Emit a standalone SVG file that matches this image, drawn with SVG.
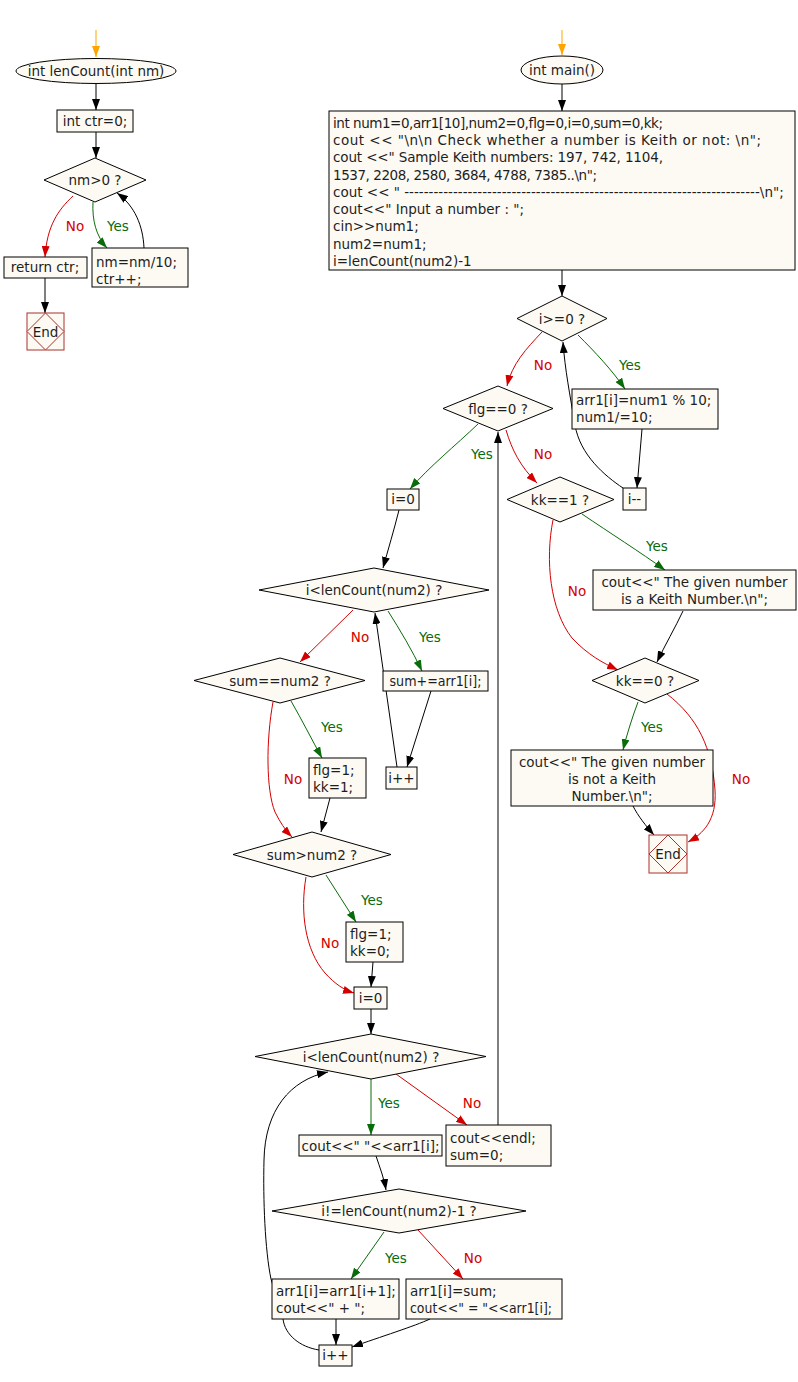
<svg xmlns="http://www.w3.org/2000/svg" width="798" height="1382" viewBox="0 0 798 1382">
<style>
.t{font-family:"DejaVu Sans","Liberation Sans",sans-serif;font-size:13.5px;fill:#1e1e1e}
.c{text-anchor:middle}
.box{fill:#fdfaf4;stroke:#000;stroke-width:1}
.end{fill:#fdfaf4;stroke:#a8322e;stroke-width:1}
.e{fill:none;stroke:#000;stroke-width:1}
.ey{fill:none;stroke:#0a6b0a;stroke-width:1}
.en{fill:none;stroke:#d40000;stroke-width:1}
.eo{fill:none;stroke:#ffa500;stroke-width:1}
.ly{font-family:"DejaVu Sans","Liberation Sans",sans-serif;font-size:13.5px;fill:#0a6b0a;text-anchor:middle}
.ln{font-family:"DejaVu Sans","Liberation Sans",sans-serif;font-size:13.5px;fill:#d40000;text-anchor:middle}
</style>
<defs>
<marker id="ak" viewBox="0 0 11 8" refX="11" refY="4" markerWidth="11" markerHeight="8" markerUnits="userSpaceOnUse" orient="auto"><path d="M0,0 L11,4 L0,8 z" fill="#000"/></marker>
<marker id="ag" viewBox="0 0 11 8" refX="11" refY="4" markerWidth="11" markerHeight="8" markerUnits="userSpaceOnUse" orient="auto"><path d="M0,0 L11,4 L0,8 z" fill="#0a6b0a"/></marker>
<marker id="ar" viewBox="0 0 11 8" refX="11" refY="4" markerWidth="11" markerHeight="8" markerUnits="userSpaceOnUse" orient="auto"><path d="M0,0 L11,4 L0,8 z" fill="#d40000"/></marker>
<marker id="ao" viewBox="0 0 11 8" refX="11" refY="4" markerWidth="11" markerHeight="8" markerUnits="userSpaceOnUse" orient="auto"><path d="M0,0 L11,4 L0,8 z" fill="#ffa500"/></marker>
</defs>
<rect width="798" height="1382" fill="#ffffff"/>

<g id="connectors">
<!-- left function -->
<path class="eo" d="M96,30 L96,57" marker-end="url(#ao)"/>
<path class="e" d="M96,83 L96,110" marker-end="url(#ak)"/>
<path class="e" d="M96,132 L96,158" marker-end="url(#ak)"/>
<path class="en" d="M73,196 C58,210 47,226 45,257" marker-end="url(#ar)"/>
<path class="ey" d="M93,202 C92,220 96,236 107,248" marker-end="url(#ag)"/>
<path class="e" d="M144,248 C143,226 135,206 117,193" marker-end="url(#ak)"/>
<path class="e" d="M45,278 L45,313" marker-end="url(#ak)"/>
<!-- main -->
<path class="eo" d="M562,30 L562,55" marker-end="url(#ao)"/>
<path class="e" d="M562,84 L562,111" marker-end="url(#ak)"/>
<path class="e" d="M562,270 L562,296" marker-end="url(#ak)"/>
<path class="en" d="M542,332 C526,349 512,364 507,386" marker-end="url(#ar)"/>
<path class="ey" d="M578,335 C595,352 612,370 625,389" marker-end="url(#ag)"/>
<path class="e" d="M642,429 L637,488" marker-end="url(#ak)"/>
<path class="e" d="M623,488 C605,476 580,455 575,425 C570,395 565,370 563,342" marker-end="url(#ak)"/>
<path class="ey" d="M478,424 C455,446 430,466 410,489" marker-end="url(#ag)"/>
<path class="en" d="M506,430 C512,450 520,466 537,483" marker-end="url(#ar)"/>
<path class="e" d="M498,1125 L498,432" marker-end="url(#ak)"/>
<path class="ey" d="M582,514 C610,533 640,552 665,570" marker-end="url(#ag)"/>
<path class="en" d="M553,520 C545,560 550,610 572,638 C588,655 603,663 618,670" marker-end="url(#ar)"/>
<path class="e" d="M683,611 C675,628 665,645 657,662" marker-end="url(#ak)"/>
<path class="ey" d="M638,702 C632,718 627,734 623,750" marker-end="url(#ag)"/>
<path class="en" d="M667,694 C698,718 712,748 715,790 C717,820 703,834 688,842" marker-end="url(#ar)"/>
<path class="e" d="M633,806 C638,816 646,826 654,835" marker-end="url(#ak)"/>
<!-- left middle -->
<path class="e" d="M399,510 C394,530 388,550 383,568" marker-end="url(#ak)"/>
<path class="en" d="M353,610 L300,662" marker-end="url(#ar)"/>
<path class="ey" d="M388,611 C400,630 412,650 422,671" marker-end="url(#ag)"/>
<path class="e" d="M431,691 L407,767" marker-end="url(#ak)"/>
<path class="e" d="M397,767 L375,613" marker-end="url(#ak)"/>
<path class="ey" d="M291,701 C302,720 312,740 322,758" marker-end="url(#ag)"/>
<path class="en" d="M273,702 C266,740 266,790 275,812 C280,822 285,830 292,837" marker-end="url(#ar)"/>
<path class="e" d="M330,798 L321,832" marker-end="url(#ak)"/>
<path class="ey" d="M326,875 C336,891 346,906 356,922" marker-end="url(#ag)"/>
<path class="en" d="M306,877 C300,912 305,950 325,973 C335,984 344,990 354,993" marker-end="url(#ar)"/>
<path class="e" d="M373,962 L371,987" marker-end="url(#ak)"/>
<path class="e" d="M371,1009 L371,1034" marker-end="url(#ak)"/>
<!-- bottom -->
<path class="ey" d="M371,1079 L371,1135" marker-end="url(#ag)"/>
<path class="en" d="M396,1074 L467,1125" marker-end="url(#ar)"/>
<path class="e" d="M376,1156 C380,1168 384,1178 386,1190" marker-end="url(#ak)"/>
<path class="e" d="M319,1350 C300,1347 285,1335 283,1319 L271,1279 C265,1250 263,1200 264,1160 C265,1110 290,1080 328,1072" marker-end="url(#ak)"/>
<path class="ey" d="M384,1232 L351,1279" marker-end="url(#ag)"/>
<path class="en" d="M418,1230 L463,1279" marker-end="url(#ar)"/>
<path class="e" d="M336,1319 L336,1345" marker-end="url(#ak)"/>
<path class="e" d="M430,1319 C415,1326 380,1337 352,1347" marker-end="url(#ak)"/>
<!-- labels -->
<text class="ln" x="75" y="231">No</text>
<text class="ly" x="118" y="231">Yes</text>
<text class="ln" x="543" y="370">No</text>
<text class="ly" x="630" y="370">Yes</text>
<text class="ly" x="482" y="459">Yes</text>
<text class="ln" x="543" y="459">No</text>
<text class="ly" x="657" y="551">Yes</text>
<text class="ln" x="577" y="596">No</text>
<text class="ly" x="652" y="732">Yes</text>
<text class="ln" x="741" y="784">No</text>
<text class="ln" x="360" y="642">No</text>
<text class="ly" x="430" y="642">Yes</text>
<text class="ly" x="332" y="732">Yes</text>
<text class="ln" x="293" y="784">No</text>
<text class="ly" x="372" y="905">Yes</text>
<text class="ln" x="330" y="948">No</text>
<text class="ly" x="389" y="1108">Yes</text>
<text class="ln" x="472" y="1108">No</text>
<text class="ly" x="396" y="1263">Yes</text>
<text class="ln" x="473" y="1263">No</text>
</g>

<g id="lenCount_start">
<ellipse class="box" cx="96" cy="71" rx="80" ry="12.5"/>
<text class="t c" x="96" y="76">int lenCount(int nm)</text>
</g>
<g id="ctr_init">
<rect class="box" x="57" y="110" width="76" height="22"/>
<text class="t c" x="95" y="126">int ctr=0;</text>
</g>
<g id="nm_cond">
<polygon class="box" points="95,158 146,180 95,202 44,180"/>
<text class="t c" x="95" y="185">nm&gt;0 ?</text>
</g>
<g id="return_ctr">
<rect class="box" x="4" y="257" width="83" height="21"/>
<text class="t c" x="45" y="272">return ctr;</text>
</g>
<g id="nm_div">
<rect class="box" x="92" y="248" width="96" height="39"/>
<text class="t" x="96" y="267">nm=nm/10;</text>
<text class="t" x="96" y="284">ctr++;</text>
</g>
<g id="end1">
<rect class="end" x="27" y="313" width="37" height="37"/>
<polygon class="end" points="45.5,313 64,331.5 45.5,350 27,331.5" fill="none"/>
<text class="t c" x="45.5" y="336.5">End</text>
</g>

<g id="main_start">
<ellipse class="box" cx="562" cy="70" rx="41" ry="14"/>
<text class="t c" x="562" y="75">int main()</text>
</g>
<g id="init_block">
<rect class="box" x="329" y="111" width="466" height="159"/>
<text class="t" x="333" y="127.7" textLength="330" lengthAdjust="spacing">int num1=0,arr1[10],num2=0,flg=0,i=0,sum=0,kk;</text>
<text class="t" x="333" y="145" textLength="428" lengthAdjust="spacing">cout &lt;&lt; "\n\n Check whether a number is Keith or not: \n";</text>
<text class="t" x="333" y="162.2" textLength="330" lengthAdjust="spacing">cout &lt;&lt;" Sample Keith numbers: 197, 742, 1104,</text>
<text class="t" x="333" y="179.5" textLength="264" lengthAdjust="spacing">1537, 2208, 2580, 3684, 4788, 7385..\n";</text>
<text class="t" x="333" y="196.7">cout &lt;&lt; " -------------------------------------------------------------------------\n";</text>
<text class="t" x="333" y="214">cout&lt;&lt;" Input a number : ";</text>
<text class="t" x="333" y="231.2">cin&gt;&gt;num1;</text>
<text class="t" x="333" y="248.5">num2=num1;</text>
<text class="t" x="333" y="265.7">i=lenCount(num2)-1</text>
</g>
<g id="i_ge0">
<polygon class="box" points="562,296 607,318.5 562,341 517,318.5"/>
<text class="t c" x="562" y="323.5">i&gt;=0 ?</text>
</g>
<g id="digit_box">
<rect class="box" x="572" y="389" width="146" height="40"/>
<text class="t" x="576" y="405">arr1[i]=num1 % 10;</text>
<text class="t" x="576" y="422">num1/=10;</text>
</g>
<g id="i_dec">
<rect class="box" x="623" y="488" width="23" height="22"/>
<text class="t c" x="634.5" y="504">i--</text>
</g>
<g id="flg_cond">
<polygon class="box" points="498,386 553,408.5 498,431 443,408.5"/>
<text class="t c" x="498" y="413.5">flg==0 ?</text>
</g>
<g id="kk1_cond">
<polygon class="box" points="560,477 614,499.5 560,522 507,499.5"/>
<text class="t c" x="560" y="504.5">kk==1 ?</text>
</g>
<g id="keith_yes">
<rect class="box" x="593" y="570" width="203" height="40"/>
<text class="t c" x="694.5" y="587">cout&lt;&lt;" The given number</text>
<text class="t c" x="694.5" y="604">is a Keith Number.\n";</text>
</g>
<g id="kk0_cond">
<polygon class="box" points="645,658 699,680.5 645,703 592,680.5"/>
<text class="t c" x="645" y="685.5">kk==0 ?</text>
</g>
<g id="keith_no">
<rect class="box" x="511" y="750" width="202" height="56"/>
<text class="t c" x="612" y="767">cout&lt;&lt;" The given number</text>
<text class="t c" x="612" y="784">is not a Keith</text>
<text class="t c" x="612" y="801">Number.\n";</text>
</g>
<g id="end2">
<rect class="end" x="649" y="835" width="38" height="38"/>
<polygon class="end" points="668,835 687,854 668,873 649,854" fill="none"/>
<text class="t c" x="668" y="859">End</text>
</g>

<g id="i_zero1">
<rect class="box" x="387" y="489" width="32" height="21"/>
<text class="t c" x="403" y="504">i=0</text>
</g>
<g id="loop1_cond">
<polygon class="box" points="374,568 489,590 374,612 259,590"/>
<text class="t c" x="374" y="595">i&lt;lenCount(num2) ?</text>
</g>
<g id="sum_add">
<rect class="box" x="383" y="671" width="105" height="20"/>
<text class="t c" x="435.5" y="686" textLength="92" lengthAdjust="spacingAndGlyphs">sum+=arr1[i];</text>
</g>
<g id="i_inc1">
<rect class="box" x="386" y="767" width="31" height="22"/>
<text class="t c" x="401.5" y="783">i++</text>
</g>
<g id="sum_eq_cond">
<polygon class="box" points="280,658 365,680.5 280,703 194,680.5"/>
<text class="t c" x="280" y="685.5">sum==num2 ?</text>
</g>
<g id="flg_kk1">
<rect class="box" x="309" y="758" width="57" height="40"/>
<text class="t" x="313" y="775">flg=1;</text>
<text class="t" x="313" y="792">kk=1;</text>
</g>
<g id="sum_gt_cond">
<polygon class="box" points="312,832 391,854.5 312,877 233,854.5"/>
<text class="t c" x="312" y="859.5">sum&gt;num2 ?</text>
</g>
<g id="flg_kk0">
<rect class="box" x="346" y="922" width="57" height="40"/>
<text class="t" x="350" y="939">flg=1;</text>
<text class="t" x="350" y="956">kk=0;</text>
</g>
<g id="i_zero2">
<rect class="box" x="354" y="987" width="33" height="22"/>
<text class="t c" x="370.5" y="1003">i=0</text>
</g>
<g id="loop2_cond">
<polygon class="box" points="371,1034 486,1056.5 371,1079 255,1056.5"/>
<text class="t c" x="371" y="1061.5">i&lt;lenCount(num2) ?</text>
</g>
<g id="print_elem">
<rect class="box" x="299" y="1135" width="143" height="21"/>
<text class="t c" x="370.5" y="1150.5">cout&lt;&lt;" "&lt;&lt;arr1[i];</text>
</g>
<g id="endl_box">
<rect class="box" x="446" y="1125" width="105" height="41"/>
<text class="t" x="450" y="1143">cout&lt;&lt;endl;</text>
<text class="t" x="450" y="1160">sum=0;</text>
</g>
<g id="last_cond">
<polygon class="box" points="399,1189 526,1211 399,1233 272,1211"/>
<text class="t c" x="399" y="1216">i!=lenCount(num2)-1 ?</text>
</g>
<g id="shift_box">
<rect class="box" x="272" y="1279" width="127" height="40"/>
<text class="t" x="276" y="1296">arr1[i]=arr1[i+1];</text>
<text class="t" x="276" y="1313">cout&lt;&lt;" + ";</text>
</g>
<g id="sum_box">
<rect class="box" x="406" y="1279" width="156" height="40"/>
<text class="t" x="410" y="1296">arr1[i]=sum;</text>
<text class="t" x="410" y="1313" textLength="142" lengthAdjust="spacingAndGlyphs">cout&lt;&lt;" = "&lt;&lt;arr1[i];</text>
</g>
<g id="i_inc2">
<rect class="box" x="319" y="1345" width="33" height="21"/>
<text class="t c" x="335.5" y="1360">i++</text>
</g>
</svg>
